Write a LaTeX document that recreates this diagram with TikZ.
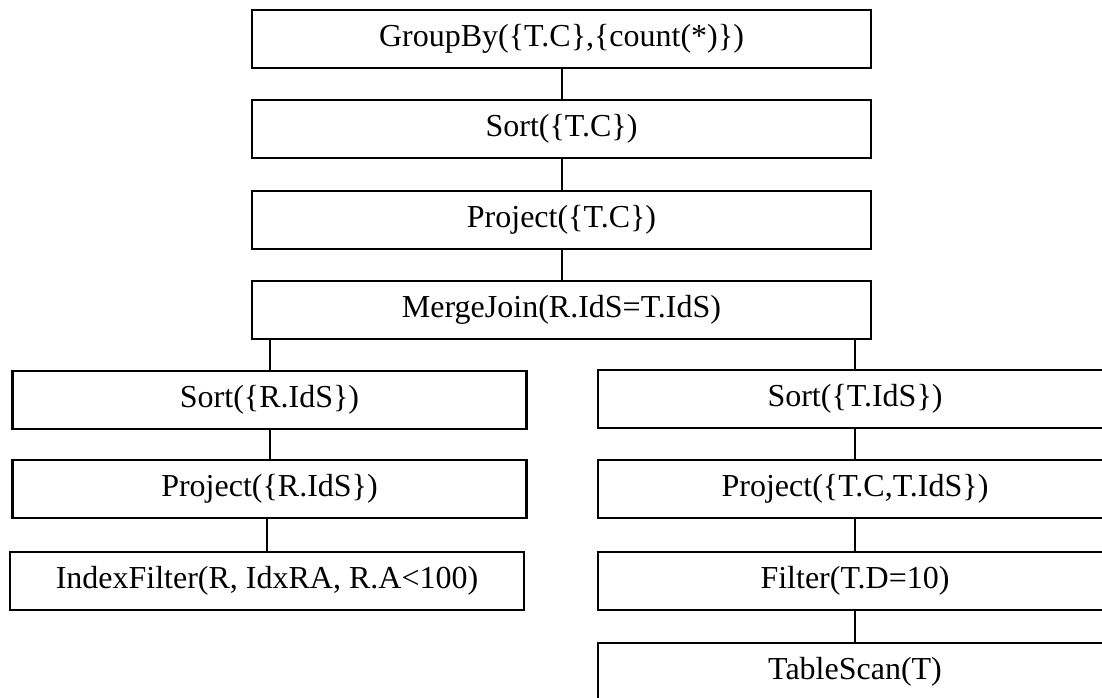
\documentclass[tikz,border=0pt]{standalone}
\usepackage{fontspec}
\setmainfont{Liberation Serif}

\begin{document}
\begin{tikzpicture}[x=0.75pt,y=0.75pt,yscale=-1, inner sep=0pt, outer sep=0pt,
    opbox/.style={draw=black,line width=1.8pt,minimum height=43.5pt,
      font=\fontsize{24}{28}\selectfont},
    widebox/.style={opbox,minimum width=464pt},
    halfbox/.style={opbox,minimum width=385.5pt},
    link/.style={draw=black,line width=1.5pt}]
  \clip (0,0) rectangle (1102,698);
  % main chain
  \node[widebox] (groupby) at (561.5,39) {GroupBy(\{T.C\},\{count(*)\})};
  \node[widebox] (sortc) at (561.5,129) {Sort(\{T.C\})};
  \node[widebox] (projc) at (561.5,220) {Project(\{T.C\})};
  \node[widebox] (mjoin) at (561.5,310) {MergeJoin(R.IdS=T.IdS)};
  % left input
  \node[halfbox] (sortr) at (269.5,400) {Sort(\{R.IdS\})};
  \node[halfbox] (projr) at (269.5,489) {Project(\{R.IdS\})};
  \node[halfbox] (ixfilt) at (267,581) {IndexFilter(R, IdxRA, R.A<100)};
  % right input
  \node[halfbox] (sortt) at (855,399) {Sort(\{T.IdS\})};
  \node[halfbox] (projt) at (855,489) {Project(\{T.C,T.IdS\})};
  \node[halfbox] (filt) at (855,581) {Filter(T.D=10)};
  \node[halfbox] (tscan) at (855,672) {TableScan(T)};
  \path[link] (groupby) -- (sortc);
  \path[link] (sortc) -- (projc);
  \path[link] (projc) -- (mjoin);
  \path[link] (mjoin.south -| sortr.north) -- (sortr.north);
  \path[link] (mjoin.south -| sortt.north) -- (sortt.north);
  \path[link] (sortr) -- (projr);
  \path[link] (projr.south -| ixfilt.north) -- (ixfilt.north);
  \path[link] (sortt) -- (projt);
  \path[link] (projt) -- (filt);
  \path[link] (filt) -- (tscan);
\end{tikzpicture}
\end{document}
